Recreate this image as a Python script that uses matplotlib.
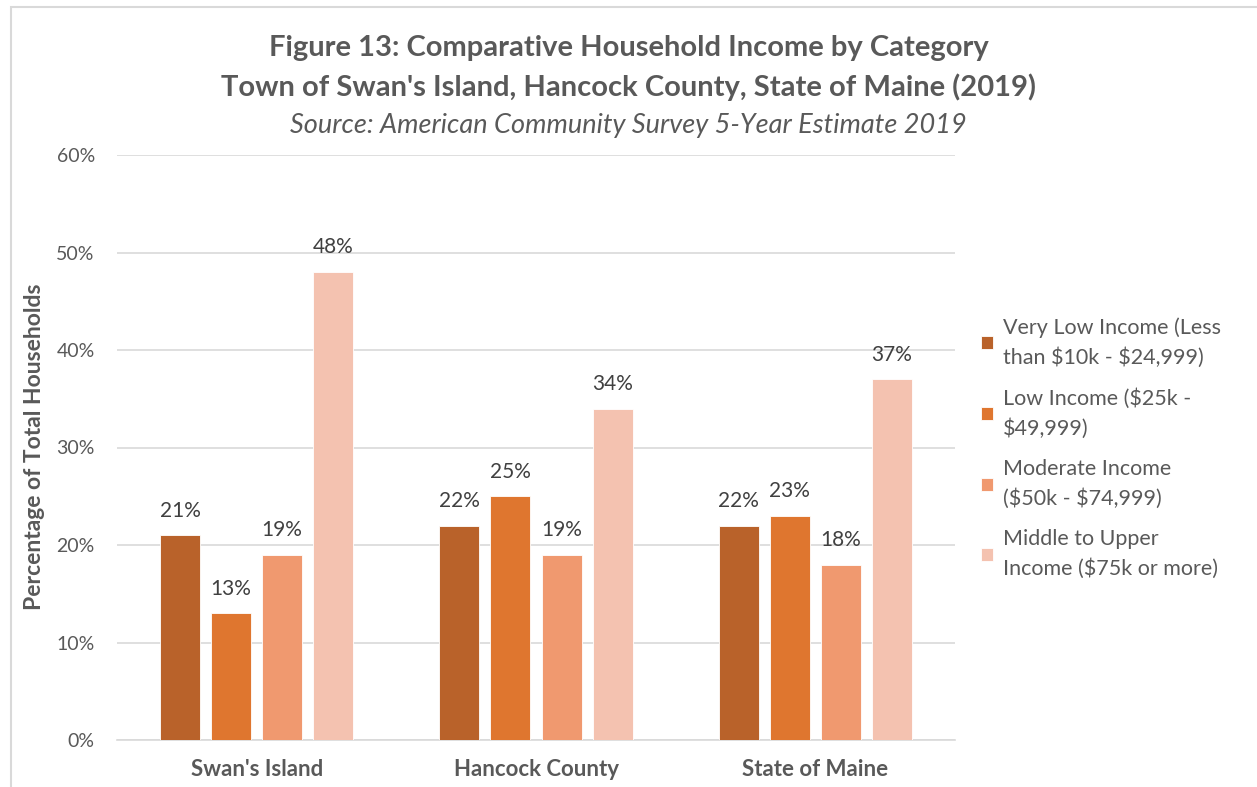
import matplotlib.pyplot as plt
import numpy as np
from matplotlib.patches import Rectangle

# data
groups = ["Swan's Island", "Hancock County", "State of Maine"]
series = ["Very Low Income (Less\nthan \\$10k - \\$24,999)",
          "Low Income (\\$25k -\n\\$49,999)",
          "Moderate Income\n(\\$50k - \\$74,999)",
          "Middle to Upper\nIncome (\\$75k or more)"]
very_low = [21, 22, 22]
low = [13, 25, 23]
moderate = [19, 19, 18]
upper = [48, 34, 37]
colors = ["#B9622A", "#DF762F", "#F0996F", "#F4C2B0"]

plt.rcParams['font.family'] = ['Lato', 'DejaVu Sans']
txt = "#595959"

fig = plt.figure(figsize=(12.57, 7.87), dpi=100)
# chart border
fig.patches.append(Rectangle((11/1257, -0.05), 1.2, 1 - 7/787 + 0.05, transform=fig.transFigure,
                             fill=False, edgecolor="#D9D9D9", linewidth=1.5))

ax = fig.add_axes([117/1257, 1 - 740/787, (955-117)/1257, (740-155)/787])

x = np.arange(len(groups))
w = 40/279.3
gap = 11/279.3
vals = [very_low, low, moderate, upper]
for i, (v, c, lab) in enumerate(zip(vals, colors, series)):
    off = (i - 1.5) * (w + gap)
    bars = ax.bar(x + off, v, width=w, color=c, label=lab, edgecolor="white", linewidth=0.6, zorder=3)
    for b, val in zip(bars, v):
        ax.text(b.get_x() + b.get_width()/2, val + 1.5, f"{val}%", ha="center", va="bottom",
                fontsize=15, color="#404040")

ax.set_xlim(-0.5, 2.5)
ax.set_ylim(0, 60)
ax.set_yticks(range(0, 61, 10))
ax.set_yticklabels([f"{t}%" for t in range(0, 61, 10)])
ax.set_xticks(x)
ax.set_xticklabels(groups, fontweight="bold", fontsize=16, color=txt)
ax.tick_params(axis="y", length=0, pad=16, labelsize=14, labelcolor=txt)
ax.tick_params(axis="x", length=0, pad=14)
ax.grid(axis="y", color="#D9D9D9", linewidth=1.2, zorder=0)
for s in ["top", "right", "left"]:
    ax.spines[s].set_visible(False)
ax.spines["bottom"].set_color("#D9D9D9")
ax.spines["bottom"].set_linewidth(1.2)

fig.text(35/1257, 1 - 447/787, "Percentage of Total Households", rotation=90, ha="center", va="center",
         fontsize=16.5, fontweight="bold", color=txt)

fig.text(0.5, 1 - 48/787, "Figure 13: Comparative Household Income by Category", ha="center", va="center",
         fontsize=21, fontweight="bold", color=txt)
fig.text(0.5, 1 - 87/787, "Town of Swan's Island, Hancock County, State of Maine (2019)", ha="center",
         va="center", fontsize=21, fontweight="bold", color=txt)
fig.text(0.5, 1 - 125/787, "Source: American Community Survey 5-Year Estimate 2019", ha="center",
         va="center", fontsize=19.5, style="italic", color=txt)

leg = fig.legend(loc="upper left", bbox_to_anchor=(962/1257, 1 - 298/787), frameon=False,
                 fontsize=15.5, labelcolor=txt, handlelength=0.55, handleheight=0.55,
                 handletextpad=0.45, labelspacing=0.95)
for t in leg.get_texts():
    t.set_linespacing(1.55)

fig.savefig("out.png", dpi=100)
